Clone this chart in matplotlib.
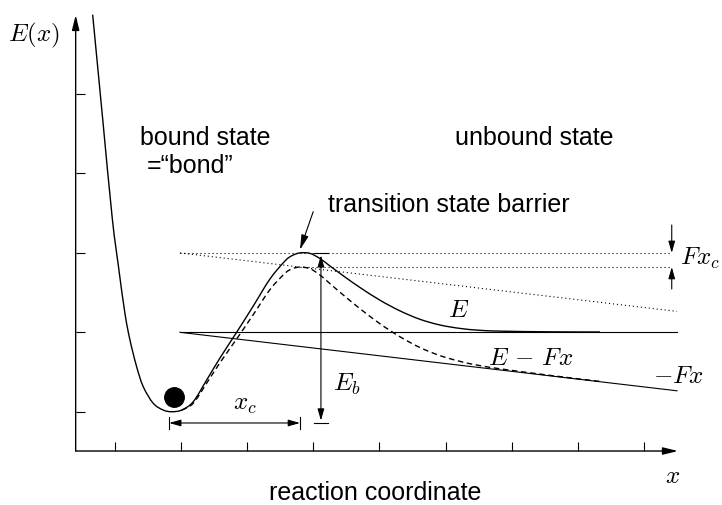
import matplotlib
matplotlib.use("Agg")
import matplotlib.pyplot as plt
from matplotlib.path import Path
from matplotlib.patches import PathPatch
import numpy as np

# ---------------- data (in tick units) ----------------
x_ticks = [1, 2, 3, 4, 5, 6, 7, 8, 9]
y_ticks = [1, 2, 3, 4, 5]

# potential energy landscape E(x)
E_x = [0.663, 0.811, 0.959, 1.053, 1.151, 1.227, 1.328, 1.428, 1.579, 1.730, 1.857,
       2.009, 2.184, 2.387, 2.588, 2.840, 3.087, 3.344, 3.571, 3.677, 3.798,
       3.949, 4.100, 4.252, 4.479, 4.706, 5.008, 5.310, 5.612, 5.915, 6.217,
       6.520, 6.868, 7.578, 8.335]
E_y = [6.00, 4.718, 3.440, 2.830, 2.239, 1.903, 1.567, 1.315, 1.106, 1.021, 1.000,
       1.021, 1.126, 1.399, 1.676, 2.000, 2.325, 2.671, 2.898, 2.965, 3.000,
       2.994, 2.929, 2.835, 2.696, 2.564, 2.404, 2.270, 2.164, 2.092, 2.049,
       2.025, 2.014, 2.006, 2.004]

# force tilt: -F x, starting at x0
F = 0.098
x0 = 1.983
x_end = 9.499
E_inf = 2.0          # unbound-state level
barrier_x = 3.798    # barrier position
barrier_E = 3.0      # barrier height
well_x = 1.82        # bottom of the well (start of x_c)
well_E = 0.858       # level of the x_c / E_b bars
ball = (1.888, 1.185)
fx_arrow_x = 9.42


def smooth_path(xs, ys):
    """Cubic Bezier path passing through every given point."""
    P = np.column_stack([xs, ys])
    n = len(P)
    verts = [P[0]]
    codes = [Path.MOVETO]
    for i in range(n - 1):
        p0 = P[i - 1] if i > 0 else P[i]
        p1, p2 = P[i], P[i + 1]
        p3 = P[i + 2] if i + 2 < n else P[i + 1]
        c1 = p1 + (p2 - p0) / 6.0
        c2 = p2 - (p3 - p1) / 6.0
        verts += [c1, c2, p2]
        codes += [Path.CURVE4] * 3
    return Path(verts, codes)


# ---------------- figure ----------------
plt.rcParams['font.family'] = ['Liberation Sans', 'DejaVu Sans']
plt.rcParams['mathtext.fontset'] = 'cm'

fig = plt.figure(figsize=(7.22, 5.05), dpi=100)
ax = fig.add_axes([0.1048, 0.1069, 0.8342, 0.8634])
ax.set_xlim(0.406, 9.514)
ax.set_ylim(0.505, 5.996)
for s in ax.spines.values():
    s.set_visible(False)
ax.set_xticks(x_ticks)
ax.set_yticks(y_ticks)
ax.set_xticklabels([])
ax.set_yticklabels([])
ax.tick_params(direction='in', length=6.5, width=0.8, top=False, right=False)

# axis arrows
ap = dict(arrowstyle='-|>,head_length=0.9,head_width=0.22', lw=1.0, color='k',
          shrinkA=0, shrinkB=0, mutation_scale=10)
ax.annotate('', xy=(1, 0), xytext=(0, 0), xycoords='axes fraction',
            textcoords='axes fraction', arrowprops=ap)
ax.annotate('', xy=(0, 1), xytext=(0, 0), xycoords='axes fraction',
            textcoords='axes fraction', arrowprops=ap)

E_x_arr = np.array(E_x)
E_y_arr = np.array(E_y)

# E(x)
ax.add_patch(PathPatch(smooth_path(E_x_arr, E_y_arr), fill=False, ec='k',
                       lw=1.0, clip_on=False))

# E - Fx (dashed)
m = E_x_arr >= x0
tilted = E_y_arr[m] - F * (E_x_arr[m] - x0)
ax.add_patch(PathPatch(smooth_path(E_x_arr[m], tilted), fill=False, ec='k',
                       lw=1.0, linestyle=(0, (4, 2.6))))

# horizontal level and -Fx line
ax.plot([x0, x_end], [E_inf, E_inf], color='k', lw=0.8)
ax.plot([x0, x_end], [E_inf, E_inf - F * (x_end - x0)], color='k', lw=0.8)

# dotted guides
dot = dict(color='k', lw=0.8, linestyle=(0, (1, 2.6)))
ax.plot([x0, fx_arrow_x - 0.02], [barrier_E, barrier_E], **dot)
ax.plot([x0, x_end], [barrier_E, barrier_E - F * (x_end - x0)], **dot)
tilted_top = barrier_E - F * (barrier_x - x0)
ax.plot([barrier_x, fx_arrow_x - 0.02], [tilted_top, tilted_top], **dot)

# ball
ax.plot([ball[0]], [ball[1]], 'o', ms=14, color='k', clip_on=False)

small = dict(lw=0.8, color='k', shrinkA=0, shrinkB=0, mutation_scale=10)

# E_b dimension
eb_x = 4.115
ax.annotate('', xy=(eb_x, barrier_E - 0.03), xytext=(eb_x, well_E + 0.03),
            arrowprops=dict(arrowstyle='<|-|>,head_length=0.7,head_width=0.2', **small))
ax.plot([eb_x - 0.1, eb_x + 0.1], [barrier_E, barrier_E], color='k', lw=0.8)
ax.plot([eb_x - 0.11, eb_x + 0.11], [well_E, well_E], color='k', lw=0.8)

# x_c dimension
ax.annotate('', xy=(barrier_x, well_E), xytext=(well_x, well_E),
            arrowprops=dict(arrowstyle='<|-|>,head_length=0.7,head_width=0.2', **small))
for xx in (well_x, barrier_x):
    ax.plot([xx, xx], [well_E - 0.075, well_E + 0.075], color='k', lw=0.8)

# F x_c arrows
ax.annotate('', xy=(fx_arrow_x, barrier_E), xytext=(fx_arrow_x, 3.351),
            arrowprops=dict(arrowstyle='-|>,head_length=0.7,head_width=0.2', **small))
ax.annotate('', xy=(fx_arrow_x, tilted_top), xytext=(fx_arrow_x, 2.545),
            arrowprops=dict(arrowstyle='-|>,head_length=0.7,head_width=0.2', **small))

# transition state arrow
ax.annotate('', xy=(barrier_x, barrier_E + 0.04), xytext=(3.998, 3.519),
            arrowprops=dict(arrowstyle='-|>,head_length=0.9,head_width=0.22', **small))

# ---------------- texts ----------------
fs = 18
kw = dict(ha='left', va='baseline', fontsize=fs)
ax.text(-0.614, 5.662, r'$E(x)$', **kw)
ax.text(1.378, 4.359, 'bound state', **kw)
ax.text(1.484, 4.006, '=\u201cbond\u201d', **kw)
ax.text(6.142, 4.359, 'unbound state', **kw)
ax.text(4.221, 3.515, 'transition state barrier', **kw)
ax.text(6.041, 2.193, r'$E$', **kw)
ax.text(6.645, 1.588, r'$E\,-\,Fx$', **kw)
ax.text(9.141, 1.361, r'$-Fx$', **kw)
ax.text(9.545, 2.848, r'$Fx_c$', **kw)
ax.text(4.301, 1.264, r'$E_b$', **kw)
ax.text(2.789, 1.021, r'$x_c$', **kw)
ax.text(9.318, 0.102, r'$x$', **kw)
ax.text(3.329, -0.112, 'reaction coordinate', **kw)

fig.savefig('out.png', dpi=100)
